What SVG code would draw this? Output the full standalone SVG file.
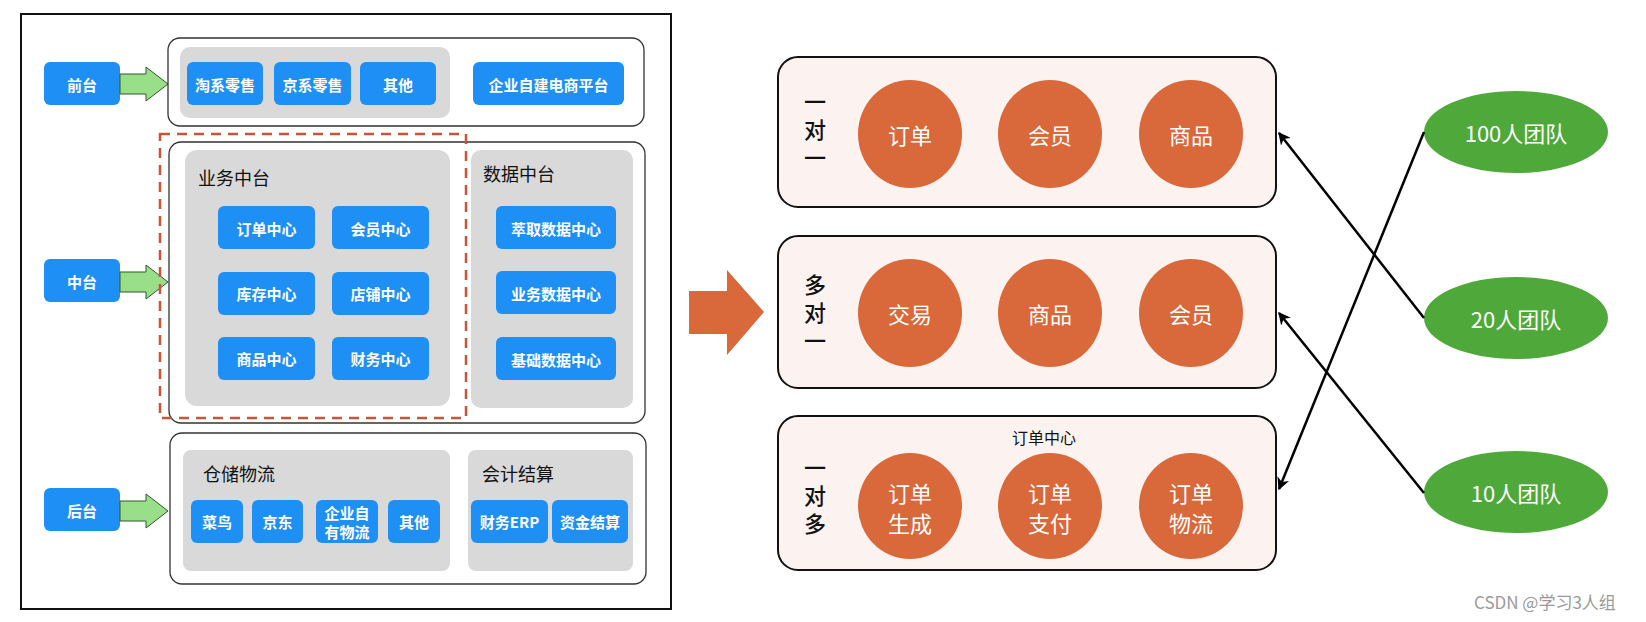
<svg xmlns="http://www.w3.org/2000/svg" width="1646" height="622" viewBox="0 0 1646 622">
<style>
text{font-family:"Noto Sans CJK SC","Noto Sans",sans-serif;}
.frame{fill:#fff;stroke:#111;stroke-width:2;}
.wbox{fill:#fff;stroke:#333;stroke-width:1.3;}
.gray{fill:#d9d9d9;}
.btn{fill:#1e90f5;}
.bt{fill:#fff;font-size:15px;font-weight:bold;text-anchor:middle;dominant-baseline:central;}
.title{fill:#111;font-size:18px;dominant-baseline:central;}
.ga{fill:#99df8a;stroke:#2e5a25;stroke-width:1;}
.pbox{fill:#fcf3f1;stroke:#111;stroke-width:2;}
.circ{fill:#d9683a;}
.ct{fill:#fff;font-size:22px;text-anchor:middle;dominant-baseline:central;}
.vl{fill:#111;font-size:22px;font-weight:500;text-anchor:middle;writing-mode:vertical-rl;letter-spacing:6px;}
.team{fill:#4ea93a;}
.tt{fill:#fff;font-size:22px;text-anchor:middle;dominant-baseline:central;}
.conn{stroke:#000;stroke-width:2.5;fill:none;marker-end:url(#ah);}
</style>
<defs>
<marker id="ah" viewBox="0 0 10 10" refX="9" refY="5" markerWidth="5" markerHeight="5" orient="auto" markerUnits="strokeWidth">
<path d="M0,0 L10,5 L0,10 L3,5 Z" fill="#000"/>
</marker>
<path id="garrow" d="M0,-10 H26 V-17 L48,0 L26,17 V10 H0 Z"/>
</defs>
<rect width="1646" height="622" fill="#fff"/>

<g id="left-frame">
<rect class="frame" x="21" y="14" width="650" height="595"/>
</g>

<g id="front">
<rect class="btn" x="44" y="62" width="76" height="43" rx="6"/>
<text class="bt" x="82" y="84">前台</text>
<use href="#garrow" class="ga" x="120" y="84"/>
<rect class="wbox" x="168" y="38" width="476" height="88" rx="12"/>
<rect class="gray" x="180" y="47" width="270" height="71" rx="10"/>
<rect class="btn" x="187" y="62" width="76" height="43" rx="6"/>
<text class="bt" x="225" y="84">淘系零售</text>
<rect class="btn" x="274" y="62" width="77" height="43" rx="6"/>
<text class="bt" x="312.5" y="84">京系零售</text>
<rect class="btn" x="360" y="62" width="76" height="43" rx="6"/>
<text class="bt" x="398" y="84">其他</text>
<rect class="btn" x="473" y="62" width="151" height="43" rx="6"/>
<text class="bt" x="548.5" y="84">企业自建电商平台</text>
</g>

<g id="middle">
<rect class="btn" x="44" y="259" width="76" height="43" rx="6"/>
<text class="bt" x="82" y="281">中台</text>
<use href="#garrow" class="ga" x="120" y="282"/>
<rect class="wbox" x="169" y="142" width="476" height="281" rx="12"/>
<rect class="gray" x="185" y="150" width="265" height="256" rx="12"/>
<text class="title" x="198" y="177">业务中台</text>
<rect class="btn" x="218" y="206" width="97" height="43" rx="6"/>
<text class="bt" x="266.5" y="228">订单中心</text>
<rect class="btn" x="332" y="206" width="97" height="43" rx="6"/>
<text class="bt" x="380.5" y="228">会员中心</text>
<rect class="btn" x="218" y="272" width="97" height="43" rx="6"/>
<text class="bt" x="266.5" y="293">库存中心</text>
<rect class="btn" x="332" y="272" width="97" height="43" rx="6"/>
<text class="bt" x="380.5" y="293">店铺中心</text>
<rect class="btn" x="218" y="337" width="97" height="43" rx="6"/>
<text class="bt" x="266.5" y="358">商品中心</text>
<rect class="btn" x="332" y="337" width="97" height="43" rx="6"/>
<text class="bt" x="380.5" y="358">财务中心</text>
<rect class="gray" x="471" y="150" width="162" height="258" rx="10"/>
<text class="title" x="483" y="173">数据中台</text>
<rect class="btn" x="496" y="206" width="120" height="43" rx="6"/>
<text class="bt" x="556" y="228">萃取数据中心</text>
<rect class="btn" x="496" y="271" width="120" height="43" rx="6"/>
<text class="bt" x="556" y="293">业务数据中心</text>
<rect class="btn" x="496" y="337" width="120" height="43" rx="6"/>
<text class="bt" x="556" y="359">基础数据中心</text>
<rect x="160" y="134" width="306" height="284" fill="none" stroke="#c8553a" stroke-width="2.5" stroke-dasharray="10,7"/>
</g>

<g id="back">
<rect class="btn" x="44" y="488" width="76" height="43" rx="6"/>
<text class="bt" x="82" y="510">后台</text>
<use href="#garrow" class="ga" x="120" y="511"/>
<rect class="wbox" x="170" y="433" width="476" height="151" rx="12"/>
<rect class="gray" x="183" y="450" width="267" height="121" rx="8"/>
<text class="title" x="203" y="473">仓储物流</text>
<rect class="btn" x="191" y="500" width="52" height="43" rx="6"/>
<text class="bt" x="217" y="521">菜鸟</text>
<rect class="btn" x="252" y="500" width="51" height="43" rx="6"/>
<text class="bt" x="277.5" y="521">京东</text>
<rect class="btn" x="316" y="500" width="62" height="43" rx="6"/>
<text class="bt" x="347" y="512">企业自</text>
<text class="bt" x="347" y="531">有物流</text>
<rect class="btn" x="388" y="500" width="52" height="43" rx="6"/>
<text class="bt" x="414" y="521">其他</text>
<rect class="gray" x="468" y="450" width="165" height="121" rx="8"/>
<text class="title" x="482" y="473">会计结算</text>
<rect class="btn" x="471" y="500" width="77" height="43" rx="6"/>
<text class="bt" x="509.5" y="521">财务ERP</text>
<rect class="btn" x="552" y="500" width="76" height="43" rx="6"/>
<text class="bt" x="590" y="521">资金结算</text>
</g>

<g id="big-arrow">
<path d="M689,291 H727 V270 L764,312 L727,355 V334 H689 Z" fill="#d9683a"/>
</g>

<g id="one-to-one">
<rect class="pbox" x="778" y="57" width="498" height="150" rx="20"/>
<text class="vl" x="815" y="133">一对一</text>
<ellipse class="circ" cx="910" cy="134" rx="52" ry="54"/>
<text class="ct" x="910" y="134">订单</text>
<ellipse class="circ" cx="1050" cy="134" rx="52" ry="54"/>
<text class="ct" x="1050" y="134">会员</text>
<ellipse class="circ" cx="1191" cy="134" rx="52" ry="54"/>
<text class="ct" x="1191" y="134">商品</text>
</g>

<g id="many-to-one">
<rect class="pbox" x="778" y="236" width="498" height="152" rx="20"/>
<text class="vl" x="815" y="316">多对一</text>
<ellipse class="circ" cx="910" cy="313" rx="52" ry="54"/>
<text class="ct" x="910" y="313">交易</text>
<ellipse class="circ" cx="1050" cy="313" rx="52" ry="54"/>
<text class="ct" x="1050" y="313">商品</text>
<ellipse class="circ" cx="1191" cy="313" rx="52" ry="54"/>
<text class="ct" x="1191" y="313">会员</text>
</g>

<g id="one-to-many">
<rect class="pbox" x="778" y="416" width="498" height="154" rx="20"/>
<text x="1044" y="437" fill="#111" font-size="16" text-anchor="middle" dominant-baseline="central">订单中心</text>
<text class="vl" x="815" y="499">一对多</text>
<ellipse class="circ" cx="910" cy="506" rx="52" ry="53"/>
<text class="ct" x="910" y="492">订单</text>
<text class="ct" x="910" y="522">生成</text>
<ellipse class="circ" cx="1050" cy="506" rx="52" ry="53"/>
<text class="ct" x="1050" y="492">订单</text>
<text class="ct" x="1050" y="522">支付</text>
<ellipse class="circ" cx="1191" cy="506" rx="52" ry="53"/>
<text class="ct" x="1191" y="492">订单</text>
<text class="ct" x="1191" y="522">物流</text>
</g>

<g id="team100">
<ellipse class="team" cx="1516" cy="132" rx="92" ry="41"/>
<text class="tt" x="1516" y="132">100人团队</text>
</g>
<g id="team20">
<ellipse class="team" cx="1516" cy="318" rx="92" ry="41"/>
<text class="tt" x="1516" y="318">20人团队</text>
</g>
<g id="team10">
<ellipse class="team" cx="1516" cy="492" rx="92" ry="41"/>
<text class="tt" x="1516" y="492">10人团队</text>
</g>

<g id="connectors">
<line class="conn" x1="1424" y1="318" x2="1279" y2="133"/>
<line class="conn" x1="1424" y1="493" x2="1279" y2="313"/>
<line class="conn" x1="1424" y1="132" x2="1279" y2="489"/>
</g>

<text x="1474" y="609" fill="#9a9a9a" font-size="17" font-family="'Liberation Sans','Noto Sans CJK SC',sans-serif">CSDN @学习3人组</text>
</svg>
